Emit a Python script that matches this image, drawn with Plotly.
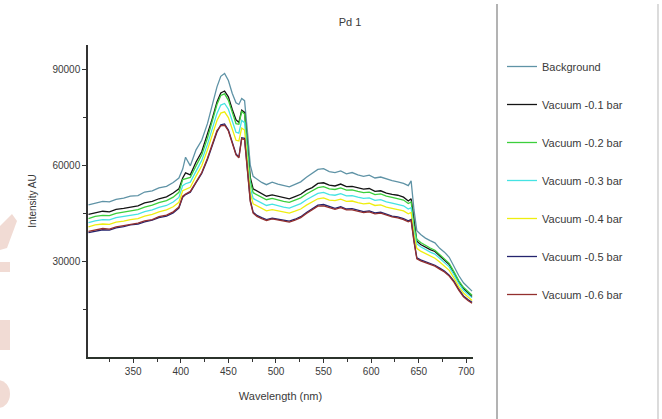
import plotly.graph_objects as go

# Wavelength grid (nm)
wavelength = [303, 310, 318, 325, 332, 340, 347, 355, 362, 370,
              377, 385, 392, 398, 402, 405, 410, 416, 422, 428,
              433, 438, 442, 446, 450, 454, 458, 461, 464, 467,
              470, 473, 476, 480, 485, 490, 496, 502, 508, 514,
              520, 526, 532, 538, 544, 550, 556, 562, 568, 574,
              580, 586, 592, 598, 604, 610, 616, 622, 628, 634,
              639, 642, 645, 648, 652, 657, 662, 667, 672, 677,
              682, 687, 692, 697, 702, 706]

background = [47600, 48200, 48700, 48500, 49300, 49700, 50300, 50500, 51600, 52000,
              52900, 53400, 54600, 56000, 58800, 62500, 59800, 64800, 67800, 73000,
              78500, 84500, 87800, 88700, 86500, 82500, 79500, 79000, 80900, 80200,
              70500, 60000, 56500, 55700, 54600, 53900, 54700, 54100, 53700, 53200,
              54000, 54800, 56200, 57400, 58700, 58900, 58000, 57700, 58200, 57300,
              57700, 57000, 56500, 56900, 56000, 56300, 55700, 55200, 54800, 54300,
              53600, 55100, 46000, 39500, 38300, 37200, 36400, 35700, 34000, 32800,
              31200, 28300, 25500, 23200, 21800, 20600]

vac_01 = [44600, 45100, 45600, 45400, 46200, 46500, 46900, 47300, 48200, 48700,
          49500, 50100, 51300, 52600, 56000, 57600, 57000, 61000, 64200, 69500,
          74500, 79800, 82600, 83200, 81400, 77500, 74200, 73400, 77200, 76500,
          66000, 56200, 52600, 52000, 51100, 50300, 50700, 50300, 49800, 49500,
          50200, 50900, 52200, 53000, 54300, 54500, 53800, 53500, 54100, 53300,
          53400, 52900, 52500, 52700, 51800, 52000, 51300, 50900, 50600, 50000,
          48800, 49500, 42000, 36200, 35200, 34300, 33600, 33000, 31600, 30300,
          28900, 26300, 23500, 21400, 20000, 18900]

vac_02 = [43300, 44000, 44300, 44200, 44900, 45300, 45800, 46100, 46900, 47500,
          48300, 48900, 50000, 51500, 55500, 55800, 56200, 59800, 63200, 68500,
          74000, 79000, 81800, 82300, 80300, 76600, 73000, 72800, 76800, 76000,
          65000, 55000, 51400, 50800, 50000, 49200, 49600, 49100, 48700, 48400,
          49000, 49800, 51000, 51900, 53000, 53300, 52600, 52400, 52900, 52200,
          52300, 51800, 51400, 51600, 50800, 51000, 50300, 49900, 49600, 49100,
          48000, 48500, 41000, 36800, 35800, 34900, 34100, 33400, 32000, 30700,
          29300, 26700, 23900, 21800, 20400, 19300]

vac_03 = [42000, 42600, 43000, 42900, 43600, 43900, 44400, 44700, 45500, 46000,
          46800, 47400, 48500, 49900, 53600, 54200, 54700, 58300, 61500, 66500,
          71500, 76200, 78800, 79300, 77500, 73800, 70300, 70000, 74000, 73300,
          62800, 53000, 49600, 49000, 48200, 47400, 47800, 47300, 46900, 46600,
          47200, 48000, 49200, 50100, 51200, 51500, 50800, 50600, 51100, 50400,
          50500, 50000, 49600, 49800, 49000, 49200, 48500, 48100, 47800, 47300,
          46300, 46700, 39500, 35400, 34500, 33600, 32800, 32200, 30900, 29600,
          28200, 25700, 23000, 20900, 19500, 18500]

vac_04 = [40700, 41300, 41600, 41500, 42200, 42500, 43000, 43300, 44100, 44600,
          45400, 46000, 47000, 48400, 52000, 52500, 53100, 56600, 59800, 64800,
          69600, 74000, 76300, 76700, 74900, 71200, 67800, 67600, 71600, 71000,
          60800, 51300, 47900, 47300, 46500, 45700, 46100, 45700, 45300, 45000,
          45600, 46300, 47500, 48400, 49500, 49800, 49100, 48900, 49400, 48700,
          48800, 48300, 47900, 48100, 47400, 47600, 46900, 46500, 46200, 45700,
          44800, 45200, 38300, 34000, 33100, 32300, 31500, 30900, 29700, 28400,
          27100, 24700, 22000, 20000, 18600, 17700]

vac_05 = [38900, 39400, 39800, 39700, 40400, 40800, 41300, 41600, 42300, 42800,
          43600, 44100, 45100, 46600, 50000, 50800, 51500, 54500, 57400, 61800,
          66200, 70400, 72600, 72900, 71000, 67300, 63500, 62500, 68600, 68400,
          58700, 49000, 45300, 44300, 43600, 43000, 43400, 43100, 42700, 42500,
          43100, 43900, 45200, 46400, 47500, 47700, 47000, 46500, 47000, 46300,
          46400, 45900, 45500, 45700, 45100, 45300, 44600, 44100, 43800, 43300,
          42600, 43000, 36500, 31000, 30400, 29800, 29300, 28700, 27800, 26900,
          25600, 23700, 21200, 19100, 17900, 17100]

vac_06 = [39300, 39700, 40200, 40000, 40700, 41100, 41500, 41900, 42600, 43000,
          43900, 44400, 45400, 46900, 50300, 51000, 51800, 54900, 57700, 62200,
          66600, 70800, 72300, 72500, 70700, 67000, 63200, 62300, 68300, 68000,
          58200, 48600, 45000, 44000, 43300, 42700, 43200, 42800, 42400, 42200,
          42800, 43600, 44900, 46000, 47200, 47300, 46700, 46200, 46700, 46000,
          46000, 45600, 45200, 45400, 44800, 45000, 44300, 43800, 43500, 43000,
          42300, 42700, 36000, 30700, 30100, 29500, 29000, 28400, 27500, 26600,
          25300, 23400, 20900, 18800, 17600, 16800]

series_names = ["Background", "Vacuum -0.1 bar", "Vacuum -0.2 bar", "Vacuum -0.3 bar",
                "Vacuum -0.4 bar", "Vacuum -0.5 bar", "Vacuum -0.6 bar"]
series_values = [background, vac_01, vac_02, vac_03, vac_04, vac_05, vac_06]
series_colors = ["#5f93a6", "#141414", "#3ccf3c", "#45e3e3", "#eeee10", "#24246e", "#93302e"]

x_ticks = [350, 400, 450, 500, 550, 600, 650, 700]
x_minor = [325, 375, 425, 475, 525, 575, 625, 675]
y_ticks = [30000, 60000, 90000]
y_tick_text = ["30000", "60000", "90000"]
y_minor = [15000, 45000, 75000]

W, H = 662, 419
L, R, T, B = 88, 473, 45, 357  # plot area in pixels


def px(x):
    return (x - L) / (R - L)


def py(y):
    return (B - y) / (B - T)


FONT = "Liberation Sans, Arial, sans-serif"
TXT = "#3a3a3a"

fig = go.Figure()
for name, vals, col in zip(series_names, series_values, series_colors):
    fig.add_trace(go.Scatter(
        x=wavelength, y=vals, name=name, mode="lines",
        line=dict(color=col, width=1.3),
        legendgroup=name,
    ))

shapes = [
    # legend frame
    dict(type="line", xref="paper", yref="paper", x0=px(497), x1=px(497), y0=py(425), y1=py(4),
         line=dict(color="#9a9a9a", width=1.5)),
    dict(type="line", xref="paper", yref="paper", x0=px(658), x1=px(658), y0=py(425), y1=py(4),
         line=dict(color="#c4c4c4", width=1.2)),
]

# faint watermark strokes on the left edge
wm = "#f1dbd4"
shapes += [
    dict(type="path", xref="paper", yref="paper", layer="below", line=dict(width=0), fillcolor=wm,
         path=f"M {px(0)} {py(226)} L {px(12)} {py(214)} L {px(17)} {py(221)} L {px(7)} {py(248)} L {px(0)} {py(250)} Z"),
    dict(type="path", xref="paper", yref="paper", layer="below", line=dict(width=0), fillcolor=wm,
         path=f"M {px(0)} {py(262)} L {px(10)} {py(262)} L {px(10)} {py(272)} L {px(0)} {py(272)} Z"),
    dict(type="path", xref="paper", yref="paper", layer="below", line=dict(width=0), fillcolor=wm,
         path=f"M {px(0)} {py(320)} L {px(10)} {py(320)} L {px(10)} {py(350)} L {px(0)} {py(350)} Z"),
    dict(type="circle", xref="paper", yref="paper", layer="below", line=dict(width=0), fillcolor=wm,
         x0=px(-14), x1=px(10), y0=py(408), y1=py(380)),
]

fig.update_layout(
    width=W, height=H,
    margin=dict(l=L, r=W - R, t=T, b=H - B),
    paper_bgcolor="white", plot_bgcolor="white",
    font=dict(family=FONT, color=TXT, size=10),
    title=dict(text="Pd 1", x=350 / W, xanchor="center", xref="container",
               y=1 - 22 / H, yanchor="middle", yref="container",
               font=dict(size=11, color=TXT)),
    showlegend=True,
    legend=dict(xref="container", yref="container", x=502 / W, y=1 - 52 / H,
                xanchor="left", yanchor="top", bgcolor="rgba(0,0,0,0)",
                font=dict(size=11, color=TXT), tracegroupgap=19,
                itemwidth=30, traceorder="grouped", maxheight=400),
    shapes=shapes,
    xaxis=dict(
        range=[302.5, 707], tickvals=x_ticks, ticks="outside", ticklen=4, tickwidth=1,
        tickcolor="#333", showline=True, linecolor="#2b332b", linewidth=2,
        showgrid=False, zeroline=False, tickfont=dict(size=10, color=TXT),
        minor=dict(tickvals=x_minor, ticks="outside", ticklen=3, tickcolor="#333"),
        title=dict(text="Wavelength (nm)", font=dict(size=11, color=TXT), standoff=16),
    ),
    yaxis=dict(
        range=[0, 97600], tickvals=y_ticks, ticktext=y_tick_text, ticks="outside",
        ticklen=4, tickwidth=1,
        tickcolor="#333", showline=True, linecolor="#333", linewidth=1.5,
        showgrid=False, zeroline=False, tickfont=dict(size=10, color=TXT),
        minor=dict(tickvals=y_minor, ticks="outside", ticklen=3, tickcolor="#333"),
        title=dict(text="Intensity AU", font=dict(size=10, color=TXT), standoff=14),
    ),
)

fig.write_html("out.html")
